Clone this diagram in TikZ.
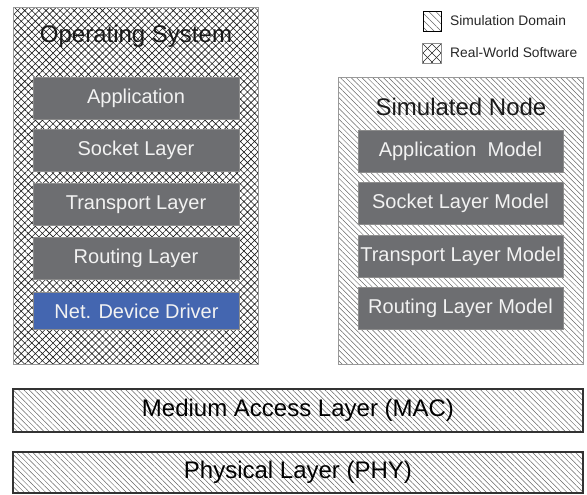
\documentclass[tikz,border=0pt]{standalone}
\usepackage{fontspec}
\setmainfont{Liberation Sans}
\usetikzlibrary{patterns.meta}
\definecolor{boxgray}{HTML}{6D6E71}
\definecolor{boxblue}{HTML}{4466B0}
\definecolor{labelwhite}{HTML}{F2F2F2}
\begin{document}
\begin{tikzpicture}[x=1pt,y=-1pt,
  simfill/.style={pattern={Lines[angle=-45,distance=3.8pt,line width=0.5pt]},pattern color=black!60},
  realfill/.style={pattern={Hatch[angle=45,distance=5pt,line width=0.6pt]},pattern color=black!90},
  outerbox/.style={draw=black!40,line width=1.3pt,inner sep=0pt,anchor=north west},
  layerbox/.style={draw=black!80,line width=1.3pt,simfill,inner sep=0pt,minimum width=570,minimum height=42,
    font=\fontsize{24}{28}\selectfont},
  inbox/.style={draw=black!45,line width=0.8pt,fill=boxgray,text=labelwhite,inner sep=0pt,
    minimum width=206,minimum height=42,font=\fontsize{20}{24}\selectfont},
  title/.style={inner sep=0pt,font=\fontsize{24}{28}\selectfont,text=black!90},
  legtext/.style={inner sep=0pt,anchor=west,font=\fontsize{13.8}{16}\selectfont,text=black!85}]
\useasboundingbox (0,0) rectangle (587,495);
% Operating system
\node[outerbox,realfill,minimum width=245,minimum height=357] (os) at (13,7) {};
\node[title] (ostitle) at (136,36) {Operating System};
\node[inbox] (app) at (136,98) {Application};
\node[inbox] (sock) at (136,150.5) {Socket Layer};
\node[inbox] (trans) at (136,204.5) {Transport Layer};
\node[inbox] (rout) at (136,258) {Routing Layer};
\node[inbox,fill=boxblue,minimum height=36.5] (ndd) at (136.5,311) {Net. Device Driver};
% Simulated node
\node[outerbox,simfill,minimum width=245,minimum height=287] (sim) at (338,77) {};
\node[title] (simtitle) at (461,107) {Simulated Node};
\node[inbox,minimum width=205] (appm) at (460.5,151) {Application\ \ Model};
\node[inbox,minimum width=205] (sockm) at (460.5,203.5) {Socket Layer Model};
\node[inbox,minimum width=205] (transm) at (460.5,256) {Transport Layer Model};
\node[inbox,minimum width=205] (routm) at (460.5,308) {Routing Layer Model};
% MAC / PHY
\node[layerbox,minimum height=43] (mac) at (298,410.5) {Medium Access Layer (MAC)};
\node[layerbox,minimum height=41] (phy) at (298,472.5) {Physical Layer (PHY)};
% Legend
\node[draw=black,line width=1pt,inner sep=0pt,minimum width=18,minimum height=20,
  pattern={Lines[angle=-45,distance=5pt,line width=0.5pt]},pattern color=black!60] (leg1) at (432,22) {};
\node[legtext] (leg1t) at (450,21) {Simulation Domain};
\node[inner sep=0pt,minimum width=18,minimum height=19] (leg2) at (432,53.5) {};
\begin{scope}
  \clip (leg2.north west) rectangle (leg2.south east);
  \foreach \d in {-18,-9,0,9,18} {
    \draw[black!85,line width=0.6pt] ([xshift=\d pt]leg2.north west) -- ++(19,19);
    \draw[black!85,line width=0.6pt] ([xshift=\d pt]leg2.north east) -- ++(-19,19);
  }
\end{scope}
\draw[black!45,line width=1pt] (leg2.north west) rectangle (leg2.south east);
\node[legtext] (leg2t) at (450,53) {Real-World Software};
\end{tikzpicture}
\end{document}
